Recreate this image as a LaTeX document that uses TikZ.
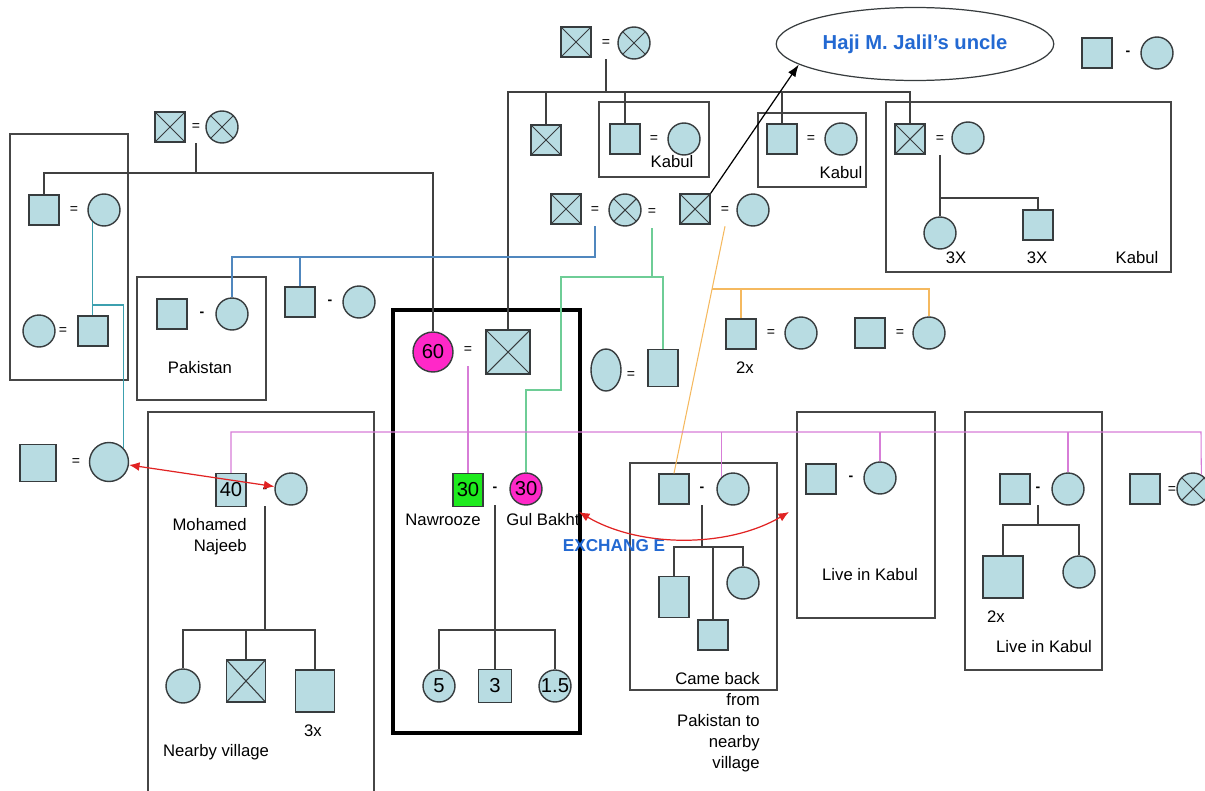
\documentclass[tikz,border=0pt]{standalone}
\usepackage{fontspec}
\setmainfont{Liberation Sans}
\usetikzlibrary{shapes.geometric,arrows.meta}

\definecolor{kin}{RGB}{184,220,226}
\definecolor{outl}{RGB}{55,60,62}
\definecolor{boxc}{RGB}{70,70,70}
\definecolor{pinkl}{RGB}{215,125,215}
\definecolor{magf}{RGB}{255,40,200}
\definecolor{grnf}{RGB}{30,235,30}
\definecolor{grnl}{RGB}{110,205,150}
\definecolor{teall}{RGB}{60,160,175}
\definecolor{bluel}{RGB}{80,135,190}
\definecolor{orangel}{RGB}{245,185,95}
\definecolor{redl}{RGB}{225,35,35}
\definecolor{txtblue}{RGB}{35,105,210}

\begin{document}
\begin{tikzpicture}
	[
	x=0.02cm, y=-0.02cm,
	font=\fontsize{9.5}{12}\selectfont,
	male/.style={draw=outl, fill=kin, line width=0.8pt, minimum width=0.6cm, minimum height=0.6cm, inner sep=0pt},
	female/.style={circle, draw=outl, fill=kin, line width=0.8pt, minimum size=0.64cm, inner sep=0pt},
	dead/.style={path picture={\draw[outl, line width=0.6pt] (path picture bounding box.north west) -- (path picture bounding box.south east) (path picture bounding box.north east) -- (path picture bounding box.south west);}},
	eq/.style={inner sep=0pt, minimum height=0.64cm, font=\fontsize{8}{8}\selectfont},
	num/.style={font=\fontsize{11.5}{12}\selectfont},
	placebox/.style={draw=boxc, line width=0.7pt},
	kinline/.style={draw=black!75, line width=0.6pt},
	pinkline/.style={draw=pinkl, line width=0.6pt},
	redarrow/.style={draw=redl, line width=0.7pt, {Latex[length=6pt,width=5pt]}-{Latex[length=6pt,width=5pt]}},
	]
	\useasboundingbox (0,0) rectangle (1205,791);

		% places
		\draw[placebox] (10,134) rectangle (128,380);
		\draw[placebox] (137,277) rectangle (266,400);
		\draw[placebox] (148,791) -- (148,412) -- (374,412) -- (374,791);
		\draw[placebox] (599,102) rectangle (709,177);
		\draw[placebox] (758,113) rectangle (866,187);
		\draw[placebox] (886,102) rectangle (1171,272);
		\draw[placebox] (630,463) rectangle (777,690);
		\draw[placebox] (797,412) rectangle (935,618);
		\draw[placebox] (965,412) rectangle (1102,670);
		\draw[black, line width=1.8pt] (393,310) rectangle (580,733);

		% oldest couple, left
		\node[male,dead] (gA1) at (170,127) {};
		\node[eq] (eA) at (196,127) {=};
		\node[female,dead] (gA2) at (222,127) {};
		\coordinate (barA) at (196,173);

		% left box
		\node[male] (lA1) at (44,210) {};
		\node[eq] (elA) at (74,210) {=};
		\node[female] (lA2) at (104,210) {};
		\node[female] (lB1) at (39,331) {};
		\node[eq] (elB) at (63,331) {=};
		\node[male] (lB2) at (93,331) {};

		% far left couple
		\node[male, minimum width=0.72cm, minimum height=0.74cm] (mh) at (38,463) {};
		\node[eq] (eM) at (76,462) {=};
		\node[female, minimum size=0.78cm] (mw) at (109,462) {};

		% Pakistan
		\node[male] (pk1) at (172,314) {};
		\node[eq] (epk) at (202,314) {\textbf{-}};
		\node[female] (pk2) at (232,314) {};
		\node (lbPak) at (200,368) {Pakistan};
		\node[male] (pq1) at (300,302) {};
		\node[eq] (epq) at (330,302) {\textbf{-}};
		\node[female] (pq2) at (359,302) {};

		% Mohamed Najeeb, nearby village
		\node[male, num, minimum height=0.66cm] (nj1) at (231,490) {40};
		\node[eq] (enj) at (265,490) {\textbf{-}};
		\node[female] (nj2) at (291,489) {};
		\node[align=right, anchor=north east] (lbNj) at (253,512) {Mohamed\\Najeeb};
		\node[female, minimum size=0.68cm] (v1) at (183,686) {};
		\node[male, dead, minimum width=0.78cm, minimum height=0.84cm] (v2) at (246,681) {};
		\node[male, minimum width=0.78cm, minimum height=0.84cm] (v3) at (315,691) {};
		\node (lbV3) at (313,731) {3x};
		\node (lbNv) at (216,752) {Nearby village};
		\coordinate (barV) at (265,630);

		% Nawrooze and Gul Bakht
		\node[female, num, fill=magf, minimum size=0.8cm] (c60) at (433,352) {60};
		\node[eq] (e60) at (468,350) {=};
		\node[male, dead, minimum size=0.88cm] (bx) at (508,352) {};
		\node[male, num, fill=grnf, minimum height=0.66cm] (nz) at (468,490) {30};
		\node[eq] (enz) at (495,489) {\textbf{-}};
		\node[female, num, fill=magf] (gb) at (526,489) {30};
		\node (lbNz) at (443,520) {Nawrooze};
		\node (lbGb) at (543,520) {Gul Bakht};
		\node[female, num] (n5) at (439,686) {5};
		\node[male, num, minimum size=0.66cm] (k3) at (495,686) {3};
		\node[female, num] (n15) at (555,686) {1.5};
		\coordinate (barN) at (495,630);

		% top family
		\node[male,dead] (tA1) at (576,42) {};
		\node[eq] (eT) at (606,43) {=};
		\node[female,dead] (tA2) at (634,43) {};
		\coordinate (barT) at (606,92);
		\node[male,dead] (t1) at (546,140) {};
		\node[male] (k1m) at (625,139) {};
		\node[eq] (ek1) at (654,139) {=};
		\node[female] (k1w) at (684,139) {};
		\node (lbK1) at (672,162) {Kabul};
		\node[male] (k2m) at (782,139) {};
		\node[eq] (ek2) at (811,139) {=};
		\node[female] (k2w) at (841,139) {};
		\node (lbK2) at (841,173) {Kabul};
		\node[male,dead] (r1m) at (910,139) {};
		\node[eq] (er) at (940,139) {=};
		\node[female] (r1w) at (968,138) {};
		\node[female] (r2w) at (940,233) {};
		\node[male] (r2m) at (1038,225) {};
		\coordinate (barR) at (940,198);
		\node (lbR1) at (956,258) {3X};
		\node (lbR2) at (1037,258) {3X};
		\node (lbR3) at (1137,258) {Kabul};

		% top right couple
		\node[male] (tr1) at (1097,53) {};
		\node[eq] (etr) at (1128,53) {\textbf{-}};
		\node[female] (tr2) at (1157,53) {};

		% middle row
		\node[male,dead] (mB1) at (566,209) {};
		\node[eq] (eB1) at (595,210) {=};
		\node[female,dead] (mB2) at (625,210) {};
		\node[eq] (eB2) at (652,212) {=};
		\node[male,dead] (mB3) at (695,209) {};
		\node[eq] (eB3) at (725,210) {=};
		\node[female] (mB4) at (753,210) {};
		\node[ellipse, draw=outl, line width=0.7pt, fill=white, minimum width=5.12cm, minimum height=1.46cm, text=txtblue, font=\fontsize{11.5}{12}\selectfont\bfseries] (uncle) at (915,44) {Haji M. Jalil's uncle};
		\coordinate (barB) at (595,257);
		\coordinate (barG) at (652,277);
		\coordinate (gk1) at (561,277);
		\coordinate (gk2) at (561,390);
		\coordinate (barO) at (712,289);

		% third row
		\node[ellipse, draw=outl, fill=kin, line width=0.8pt, minimum width=0.6cm, minimum height=0.84cm, inner sep=0pt] (ov1) at (606,370) {};
		\node[eq] (eov) at (631,375) {=};
		\node[male, minimum height=0.74cm] (ov2) at (663,368) {};
		\node[male] (o1m) at (741,334) {};
		\node[eq] (eo1) at (771,333) {=};
		\node[female] (o1w) at (801,333) {};
		\node (lbO1) at (745,368) {2x};
		\node[male] (o2m) at (870,333) {};
		\node[eq] (eo2) at (900,333) {=};
		\node[female] (o2w) at (929,333) {};

		% came back from Pakistan
		\node[male] (cb1) at (674,489) {};
		\node[eq] (ecb) at (702,489) {\textbf{-}};
		\node[female] (cb2) at (733,489) {};
		\node[male, minimum height=0.82cm] (cb3) at (674,597) {};
		\node[male] (cb4) at (713,635) {};
		\node[female] (cb5) at (743,583) {};
		\coordinate (barC) at (702,547);
		\node[align=right, anchor=north east] (lbCb) at (766,666) {Came back\\from\\Pakistan to\\nearby\\village};

		% live in Kabul
		\node[male] (lk1m) at (821,479) {};
		\node[eq] (elk1) at (851,478) {\textbf{-}};
		\node[female] (lk1w) at (880,478) {};
		\node (lbLk1) at (870,575) {Live in Kabul};
		\node[male] (lk2m) at (1015,489) {};
		\node[eq] (elk2) at (1038,489) {\textbf{-}};
		\node[female] (lk2w) at (1068,489) {};
		\node[male, minimum width=0.8cm, minimum height=0.84cm] (lk2c1) at (1003,577) {};
		\node[female] (lk2c2) at (1079,572) {};
		\coordinate (barK) at (1038,525);
		\node (lbLk2a) at (996,617) {2x};
		\node (lbLk2b) at (1044,647) {Live in Kabul};
		\node[male] (xm) at (1145,489) {};
		\node[eq] (exw) at (1172,490) {=};
		\node[female,dead] (xw) at (1193,489) {};

		% exchange
		\coordinate (arL) at (579,512);
		\coordinate (arR) at (789,512);
		\node[text=txtblue, font=\fontsize{9.8}{12}\selectfont\bfseries] (lbEx) at (614,546) {EXCHANG E};
		\coordinate (pinkR) at (1201,432);

		% descent lines
		\draw[kinline] (eA.south) -- (barA);
		\draw[kinline] (lA1.north) |- (barA) -| (c60.north);
		\draw[kinline] (eT.south) -- (barT);
		\draw[kinline] (t1.north) |- (barT) -| (r1m.north);
		\foreach \kid in {bx,k1m,k2m} \draw[kinline] (\kid.north) |- (barT);
		\draw[kinline] (er.south) -- (r2w.north);
		\draw[kinline] (barR) -| (r2m.north);
		\draw[kinline] (enj.south) -- (barV);
		\draw[kinline] (v1.north) |- (barV) -| (v3.north);
		\draw[kinline] (v2.north) -- (v2.north |- barV);
		\draw[kinline] (enz.south) -- (k3.north);
		\draw[kinline] (n5.north) |- (barN) -| (n15.north);
		\draw[kinline] (ecb.south) -- (barC);
		\draw[kinline] (cb3.north) |- (barC) -| (cb5.north);
		\draw[kinline] (cb4.north) -- (cb4.north |- barC);
		\draw[kinline] (elk2.south) -- (barK);
		\draw[kinline] (lk2c1.north) |- (barK) -| (lk2c2.north);

		% coloured lines
		\draw[teall, line width=0.6pt] (lA2.south west) -- (lA2.south west |- lB2.north);
		\draw[teall, line width=0.6pt] (lA2.south west |- 0,305) -| (mw.north east);
		\draw[bluel, line width=0.6pt] (eB1.south) -- (barB) -| (pk2.north);
		\draw[bluel, line width=0.6pt] (pq1.north) -- (pq1.north |- barB);
		\draw[grnl, line width=0.6pt] (eB2.south) -- (barG);
		\draw[grnl, line width=0.6pt] (ov2.north) |- (barG) -- (gk1) -- (gk2) -| (gb.north);
		\draw[orangel, line width=0.6pt] (eB3.south) -- (cb1.north);
		\draw[orangel, line width=0.6pt] (o1m.north) |- (barO) -| (o2w.north);
		\draw[pinkline] (e60.south) -- (nz.north);
		\draw[pinkline] (nj1.north) |- (pinkR) -- (xw.60);
		\foreach \n in {cb2.north west,lk1w.north,lk2w.north} \draw[pinkline] (\n) -- (\n |- pinkR);

		% arrows
		\draw[-{Latex[length=7pt,width=5pt]}, line width=0.7pt] (mB3.north east) -- (uncle.190);
		\draw[redarrow] (mw) -- (nj2);
		\draw[redarrow] (arL) .. controls (640,548) and (728,548) .. (arR);

	\end{tikzpicture}
\end{document}
